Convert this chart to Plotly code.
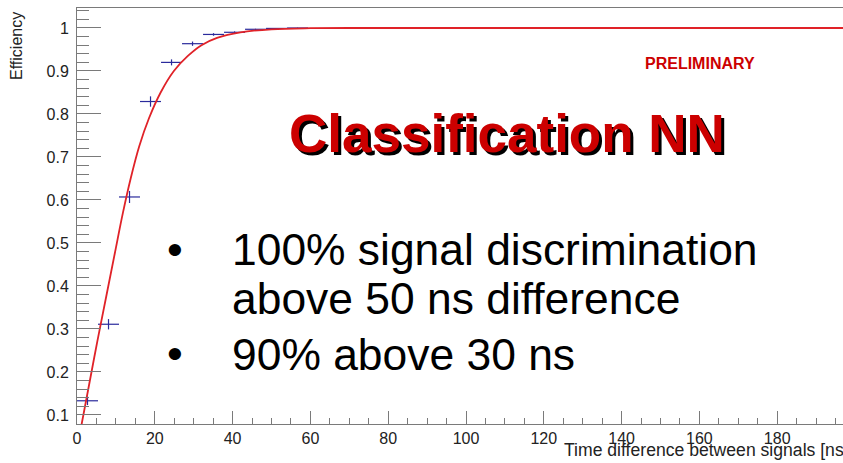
import plotly.graph_objects as go

# Measured efficiency per time-difference bin (bin width 5.4 ns)
bin_centers = [2.7, 8.1, 13.5, 18.9, 24.3, 29.7, 35.1, 40.5, 45.9, 51.3, 56.7]
bin_half_width = [2.7] * len(bin_centers)
efficiency = [0.133, 0.311, 0.607, 0.829, 0.920, 0.9635, 0.985, 0.990, 0.997, 0.999, 1.0]
efficiency_err = [0.010, 0.012, 0.014, 0.012, 0.007, 0.005, 0.003, 0.002, 0.001, 0.001, 0.0]

# Fitted efficiency curve (sampled)
fit_x = [0.5, 1.2, 3.0, 5.2, 7.5, 9.7, 11.8, 13.8, 16.0, 18.5, 21.5, 24.9, 28.5,
         32.0, 36.0, 42.0, 50.0, 60.0, 75.0, 120.0, 197.0]
fit_y = [0.045, 0.079, 0.165, 0.27, 0.375, 0.475, 0.57, 0.65, 0.725, 0.79, 0.85,
         0.90, 0.935, 0.96, 0.977, 0.99, 0.997, 0.9995, 1.0, 1.0, 1.0]

y_ticks = [0.1, 0.2, 0.3, 0.4, 0.5, 0.6, 0.7, 0.8, 0.9, 1.0]
y_tick_text = ["0.1", "0.2", "0.3", "0.4", "0.5", "0.6", "0.7", "0.8", "0.9", "1"]

W, H = 843, 463
ML, MR, MT, MB = 77, 0, 8, 39
PW, PH = W - ML - MR, H - MT - MB

FONT = "Liberation Sans, Arial, Helvetica, sans-serif"
AXIS_COL = "#7a7a7a"
BLUE = "#2a2a9c"
RED = "#e02228"


def px(x):
    return (x - ML) / PW


def py(y):
    return (H - MB - y) / PH


fig = go.Figure()

fig.add_trace(go.Scatter(
    x=bin_centers, y=efficiency,
    mode="markers",
    marker=dict(size=1, color=BLUE),
    error_x=dict(type="data", array=bin_half_width, color=BLUE, thickness=1.2, width=0),
    error_y=dict(type="data", array=efficiency_err, color=BLUE, thickness=1.2, width=0),
    hoverinfo="skip", showlegend=False,
))

fig.add_trace(go.Scatter(
    x=fit_x, y=fit_y, mode="lines",
    line=dict(color=RED, width=1.8, shape="spline", smoothing=1.0),
    hoverinfo="skip", showlegend=False,
))

fig.update_xaxes(
    range=[0, (W - ML) / 3.89], showgrid=False, zeroline=False,
    showline=True, linecolor=AXIS_COL, linewidth=1, mirror=True,
    ticks="inside", ticklen=13, tickcolor=AXIS_COL, tickwidth=1,
    tick0=0, dtick=20,
    minor=dict(ticks="inside", ticklen=6, tickcolor=AXIS_COL, dtick=5),
    tickfont=dict(family=FONT, size=16, color="#222"),
)
fig.update_yaxes(
    range=[0.079, 1.0465], showgrid=False, zeroline=False,
    showline=True, linecolor=AXIS_COL, linewidth=1,
    ticks="inside", ticklen=24, tickcolor=AXIS_COL, tickwidth=1,
    tickvals=y_ticks, ticktext=y_tick_text,
    minor=dict(ticks="inside", ticklen=12, tickcolor=AXIS_COL, tick0=0, dtick=0.02),
    tickfont=dict(family=FONT, size=16, color="#222"),
    ticklabelstandoff=4,
)

annotations = [
    # axis titles
    dict(text="Time difference between signals [ns]", x=px(562), y=py(450),
         xanchor="left", yanchor="middle", font=dict(family=FONT, size=17.6, color="#222")),
    dict(text="Efficiency", x=px(17), y=py(10), textangle=-90,
         xanchor="center", yanchor="top", font=dict(family=FONT, size=16, color="#222")),
    # overlay labels
    dict(text="<b>PRELIMINARY</b>", x=px(700), y=py(64), xanchor="center", yanchor="middle",
         font=dict(family=FONT, size=16, color="#cc0000")),
    dict(text="<b>Classification NN</b>", x=px(510), y=py(136), xanchor="center", yanchor="middle",
         font=dict(family=FONT, size=53, color="#000000")),
    dict(text="<b>Classification NN</b>", x=px(507), y=py(133), xanchor="center", yanchor="middle",
         font=dict(family=FONT, size=53, color="#cc0000")),
    dict(text="•", x=px(175), y=py(249), xanchor="center", yanchor="middle",
         font=dict(family=FONT, size=45, color="#000")),
    dict(text="100% signal discrimination", x=px(230), y=py(249), xanchor="left", yanchor="middle",
         font=dict(family=FONT, size=44.4, color="#000")),
    dict(text="above 50 ns difference", x=px(230), y=py(298), xanchor="left", yanchor="middle",
         font=dict(family=FONT, size=44.4, color="#000")),
    dict(text="•", x=px(175), y=py(353), xanchor="center", yanchor="middle",
         font=dict(family=FONT, size=45, color="#000")),
    dict(text="90% above 30 ns", x=px(230), y=py(354), xanchor="left", yanchor="middle",
         font=dict(family=FONT, size=44.4, color="#000")),
]
for a in annotations:
    a.update(xref="paper", yref="paper", showarrow=False)

fig.update_layout(
    width=W, height=H,
    margin=dict(l=ML, r=MR, t=MT, b=MB, pad=0),
    paper_bgcolor="white", plot_bgcolor="white",
    annotations=annotations,
)

fig.write_html("out.html")
